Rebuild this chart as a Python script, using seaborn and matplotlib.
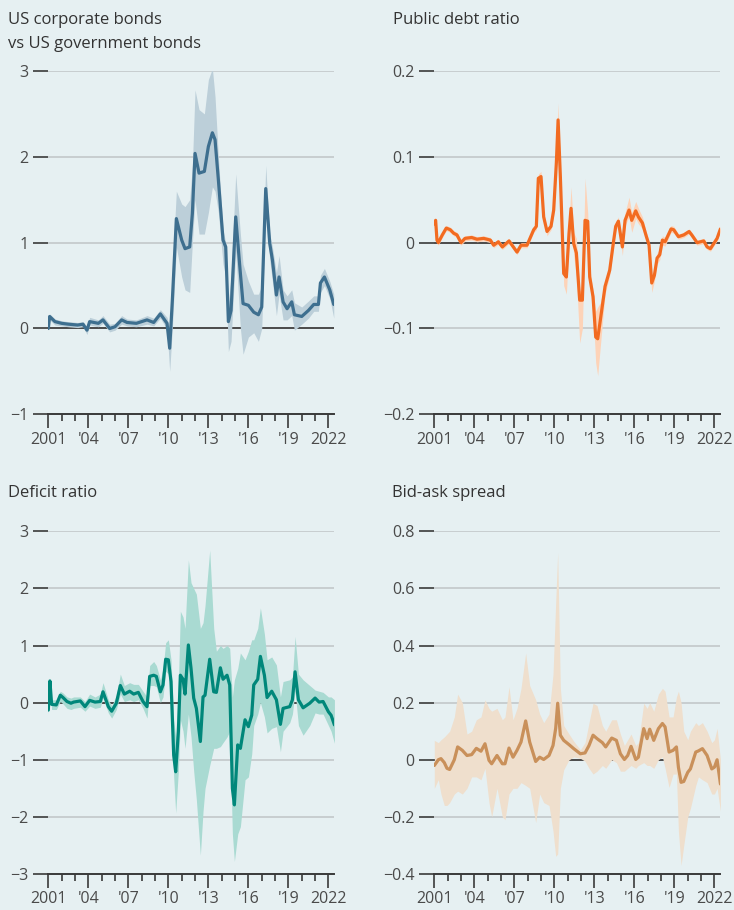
import matplotlib
matplotlib.use("Agg")
import matplotlib.pyplot as plt
import seaborn as sns
from matplotlib.ticker import FixedLocator, MultipleLocator

# ---- data (decimal years) ----
corp_years = [2001.0, 2001.1, 2001.5, 2002.0, 2002.5, 2003.2, 2003.6, 2003.9, 2004.1, 2004.75,
              2005.1, 2005.6, 2006.0, 2006.5, 2006.9, 2007.6, 2008.4, 2008.9, 2009.4, 2009.9,
              2010.1, 2010.3, 2010.6, 2011.0, 2011.25, 2011.6, 2011.8, 2012.0, 2012.3, 2012.7,
              2013.0, 2013.3, 2013.5, 2013.75, 2014.1, 2014.3, 2014.5, 2014.7, 2015.05, 2015.4,
              2015.6, 2016.0, 2016.4, 2016.75, 2017.0, 2017.3, 2017.6, 2017.8, 2018.1, 2018.3,
              2018.6, 2018.9, 2019.25, 2019.45, 2020.0, 2020.5, 2020.9, 2021.25, 2021.4, 2021.7,
              2022.1, 2022.4]
corp_mid = [0.0, 0.14, 0.08, 0.06, 0.05, 0.04, 0.05, -0.02, 0.08, 0.06,
            0.10, 0.0, 0.02, 0.10, 0.07, 0.06, 0.10, 0.07, 0.17, 0.06,
            -0.23, 0.33, 1.28, 1.03, 0.93, 0.95, 1.34, 2.04, 1.81, 1.83,
            2.12, 2.28, 2.20, 1.73, 1.03, 0.95, 0.08, 0.21, 1.30, 0.64,
            0.29, 0.27, 0.19, 0.16, 0.25, 1.63, 0.99, 0.80, 0.39, 0.60,
            0.31, 0.23, 0.31, 0.16, 0.14, 0.21, 0.28, 0.28, 0.53, 0.60,
            0.45, 0.28]
corp_lo = [-0.02, 0.10, 0.04, 0.03, 0.02, 0.01, 0.02, -0.07, 0.04, 0.02,
           0.06, -0.04, -0.02, 0.05, 0.03, 0.02, 0.05, 0.03, 0.12, -0.01,
           -0.50, 0.0, 0.95, 0.60, 0.45, 0.42, 1.00, 1.50, 1.10, 1.10,
           1.35, 1.65, 1.60, 1.35, 0.75, 0.60, -0.27, -0.15, 0.90, 0.0,
           -0.30, -0.10, -0.05, -0.15, 0.0, 1.40, 0.80, 0.55, 0.15, 0.40,
           0.10, 0.10, 0.15, -0.02, 0.05, 0.12, 0.20, 0.20, 0.42, 0.50,
           0.35, 0.12]
corp_hi = [0.02, 0.17, 0.11, 0.09, 0.08, 0.07, 0.08, 0.02, 0.13, 0.10,
           0.15, 0.05, 0.06, 0.15, 0.11, 0.10, 0.15, 0.12, 0.22, 0.13,
           0.0, 0.70, 1.60, 1.45, 1.42, 1.50, 1.90, 2.78, 2.55, 2.50,
           2.90, 3.03, 2.70, 2.00, 1.15, 1.00, 0.30, 0.60, 1.80, 1.10,
           0.75, 0.55, 0.40, 0.40, 0.50, 1.90, 1.10, 0.95, 0.65, 0.85,
           0.45, 0.38, 0.45, 0.30, 0.25, 0.32, 0.38, 0.38, 0.62, 0.70,
           0.55, 0.40]

debt_years = [2001.0, 2001.1, 2001.2, 2001.3, 2001.6, 2001.9, 2002.2, 2002.45, 2002.7, 2003.0,
              2003.3, 2003.8, 2004.2, 2004.7, 2005.2, 2005.45, 2005.8, 2006.1, 2006.6, 2007.2,
              2007.5, 2007.95, 2008.45, 2008.65, 2008.8, 2009.0, 2009.2, 2009.45, 2009.75, 2009.95,
              2010.15, 2010.28, 2010.45, 2010.7, 2010.9, 2011.1, 2011.25, 2011.45, 2011.65, 2011.9,
              2012.1, 2012.3, 2012.5, 2012.65, 2012.9, 2013.1, 2013.25, 2013.45, 2013.8, 2014.15,
              2014.45, 2014.6, 2014.8, 2015.1, 2015.3, 2015.6, 2015.8, 2016.1, 2016.3, 2016.6,
              2016.9, 2017.1, 2017.3, 2017.5, 2017.7, 2017.9, 2018.1, 2018.3, 2018.75, 2018.95,
              2019.3, 2019.7, 2020.1, 2020.3, 2020.7, 2021.2, 2021.45, 2021.7, 2021.95, 2022.2,
              2022.45]
debt_mid = [0.022, 0.026, 0.003, 0.0, 0.009, 0.017, 0.015, 0.011, 0.009, 0.0,
            0.005, 0.006, 0.004, 0.005, 0.003, -0.003, 0.001, -0.005, 0.002, -0.011,
            -0.003, -0.003, 0.015, 0.019, 0.075, 0.077, 0.030, 0.013, 0.019, 0.038,
            0.093, 0.143, 0.077, -0.036, -0.040, 0.011, 0.040, -0.001, -0.012, -0.067,
            -0.067, 0.026, 0.025, -0.040, -0.063, -0.110, -0.112, -0.090, -0.051, -0.032,
            0.003, 0.019, 0.025, -0.005, 0.026, 0.038, 0.026, 0.037, 0.030, 0.023,
            0.007, -0.003, -0.047, -0.038, -0.018, -0.014, 0.003, 0.001, 0.016, 0.015,
            0.007, 0.009, 0.013, 0.009, 0.0, 0.002, -0.005, -0.007, -0.001, 0.005,
            0.016]
debt_lo = [0.018, 0.022, 0.0, -0.003, 0.006, 0.014, 0.012, 0.008, 0.006, -0.003,
           0.002, 0.003, 0.001, 0.002, 0.0, -0.006, -0.002, -0.008, -0.001, -0.014,
           -0.006, -0.006, 0.012, 0.015, 0.068, 0.070, 0.025, 0.008, 0.015, 0.032,
           0.085, 0.130, 0.068, -0.050, -0.060, 0.0, 0.030, -0.015, -0.040, -0.117,
           -0.100, 0.015, 0.015, -0.050, -0.080, -0.140, -0.155, -0.120, -0.060, -0.038,
           -0.003, 0.014, 0.020, -0.015, 0.020, 0.030, 0.012, 0.028, 0.022, 0.016,
           0.002, -0.010, -0.058, -0.045, -0.025, -0.020, -0.003, -0.004, 0.012, 0.011,
           0.004, 0.006, 0.010, 0.006, -0.003, -0.001, -0.008, -0.010, -0.004, 0.002,
           0.013]
debt_hi = [0.026, 0.029, 0.006, 0.003, 0.012, 0.020, 0.018, 0.014, 0.012, 0.003,
           0.008, 0.009, 0.007, 0.008, 0.006, 0.0, 0.004, -0.002, 0.005, -0.008,
           0.0, 0.0, 0.018, 0.023, 0.080, 0.083, 0.035, 0.017, 0.023, 0.043,
           0.100, 0.163, 0.087, -0.025, -0.030, 0.025, 0.065, 0.012, 0.005, -0.055,
           -0.060, 0.075, 0.035, -0.030, -0.055, -0.080, -0.075, -0.070, -0.045, -0.027,
           0.008, 0.024, 0.030, 0.002, 0.035, 0.053, 0.035, 0.048, 0.040, 0.030,
           0.012, 0.002, -0.040, -0.032, -0.012, -0.008, 0.008, 0.006, 0.020, 0.019,
           0.010, 0.012, 0.016, 0.012, 0.003, 0.005, -0.002, -0.004, 0.002, 0.008,
           0.019]

def_years = [2001.0, 2001.12, 2001.25, 2001.6, 2001.9, 2002.1, 2002.4, 2002.7, 2002.9, 2003.4,
             2003.75, 2004.1, 2004.5, 2004.9, 2005.1, 2005.5, 2005.75, 2006.1, 2006.4, 2006.7,
             2007.1, 2007.4, 2007.75, 2008.1, 2008.4, 2008.6, 2008.9, 2009.1, 2009.4, 2009.6,
             2009.8, 2010.0, 2010.2, 2010.4, 2010.55, 2010.75, 2010.9, 2011.1, 2011.25, 2011.5,
             2011.7, 2011.9, 2012.1, 2012.4, 2012.6, 2012.75, 2013.1, 2013.4, 2013.6, 2013.9,
             2014.1, 2014.4, 2014.6, 2014.8, 2014.95, 2015.2, 2015.4, 2015.75, 2016.0, 2016.25,
             2016.4, 2016.7, 2016.9, 2017.2, 2017.4, 2017.75, 2018.1, 2018.4, 2018.6, 2019.1,
             2019.3, 2019.5, 2019.75, 2020.1, 2020.6, 2021.0, 2021.3, 2021.6, 2022.0, 2022.2,
             2022.45]
def_mid = [-0.13, 0.38, -0.03, -0.04, 0.13, 0.09, 0.02, -0.01, 0.01, 0.03,
           -0.07, 0.04, 0.01, 0.02, 0.19, -0.07, -0.15, -0.01, 0.30, 0.15,
           0.20, 0.15, 0.18, 0.02, -0.07, 0.46, 0.48, 0.46, 0.19, 0.31,
           0.76, 0.75, 0.37, -0.92, -1.21, -0.51, 0.48, 0.41, 0.15, 1.01,
           0.60, 0.08, -0.10, -0.68, 0.10, 0.13, 0.76, 0.19, 0.18, 0.61,
           0.41, 0.48, 0.31, -1.50, -1.79, -0.74, -0.80, -0.30, -0.42, -0.22,
           0.31, 0.41, 0.81, 0.48, 0.09, 0.20, 0.05, -0.38, -0.10, -0.07,
           0.05, 0.54, 0.05, -0.09, -0.01, 0.08, 0.01, 0.02, -0.16, -0.22,
           -0.39]
def_lo = [-0.20, 0.30, -0.12, -0.12, 0.02, -0.02, -0.10, -0.12, -0.10, -0.08,
          -0.15, -0.06, -0.10, -0.08, 0.08, -0.18, -0.27, -0.12, 0.15, 0.02,
          0.05, 0.02, 0.05, -0.10, -0.27, 0.30, 0.30, 0.28, 0.0, 0.10,
          0.55, 0.50, 0.0, -1.30, -1.93, -1.20, -0.30, -0.50, -0.80, -0.20,
          -0.60, -1.20, -1.70, -2.67, -1.90, -1.50, -1.10, -0.80, -0.80, -0.77,
          -0.70, -0.60, -0.50, -2.30, -2.78, -2.30, -2.17, -1.35, -1.30, -0.90,
          -0.40, -0.20, 0.0, -0.25, -0.53, -0.45, -0.42, -0.86, -0.50, -0.35,
          -0.20, 0.20, -0.40, -0.57, -0.40, -0.18, -0.20, -0.20, -0.40, -0.50,
          -0.71]
def_hi = [-0.05, 0.42, 0.05, 0.05, 0.20, 0.17, 0.10, 0.08, 0.10, 0.10,
          0.02, 0.15, 0.10, 0.15, 0.35, 0.05, -0.05, 0.12, 0.50, 0.30,
          0.35, 0.32, 0.32, 0.20, 0.10, 0.65, 0.72, 0.65, 0.40, 0.60,
          1.05, 1.10, 0.75, -0.30, -0.60, 0.30, 1.60, 1.50, 1.30, 2.50,
          2.10, 2.00, 1.90, 1.30, 1.40, 1.70, 2.67, 1.30, 0.90, 1.00,
          0.95, 1.00, 0.95, 0.10, 0.40, 0.60, 0.87, 0.75, 0.90, 1.10,
          1.10, 1.30, 1.66, 1.20, 0.75, 0.80, 0.66, 0.10, 0.37, 0.40,
          0.45, 1.16, 0.50, 0.40, 0.30, 0.22, 0.20, 0.18, 0.10, 0.10,
          0.05]

bid_years = [2001.0, 2001.3, 2001.5, 2001.75, 2001.95, 2002.15, 2002.5, 2002.75, 2003.1, 2003.45,
             2003.8, 2004.15, 2004.5, 2004.8, 2005.1, 2005.3, 2005.7, 2006.1, 2006.3, 2006.6,
             2006.9, 2007.2, 2007.5, 2007.85, 2008.15, 2008.6, 2008.9, 2009.2, 2009.6, 2009.9,
             2010.1, 2010.25, 2010.45, 2010.7, 2011.1, 2011.45, 2011.95, 2012.3, 2012.6, 2012.9,
             2013.2, 2013.6, 2013.85, 2014.3, 2014.65, 2014.95, 2015.25, 2015.5, 2015.75, 2016.1,
             2016.3, 2016.7, 2016.95, 2017.15, 2017.45, 2017.8, 2018.1, 2018.3, 2018.6, 2018.9,
             2019.15, 2019.3, 2019.5, 2019.7, 2020.0, 2020.2, 2020.6, 2020.8, 2021.1, 2021.45,
             2021.8, 2022.0, 2022.2, 2022.45]
bid_mid = [-0.020, 0.0, 0.004, -0.010, -0.030, -0.034, 0.0, 0.045, 0.033, 0.015,
           0.018, 0.040, 0.030, 0.056, -0.002, -0.014, 0.015, -0.014, -0.014, 0.041,
           0.009, 0.033, 0.062, 0.136, 0.062, -0.006, 0.009, 0.001, 0.015, 0.050,
           0.110, 0.198, 0.086, 0.068, 0.053, 0.039, 0.021, 0.024, 0.050, 0.086,
           0.074, 0.060, 0.045, 0.076, 0.068, 0.021, 0.001, 0.015, 0.047, 0.001,
           0.009, 0.109, 0.074, 0.107, 0.068, 0.109, 0.127, 0.115, 0.027, 0.033,
           0.045, -0.026, -0.079, -0.076, -0.044, -0.032, 0.027, 0.031, 0.039, 0.015,
           -0.032, -0.026, 0.0, -0.085]
bid_lo = [-0.10, -0.07, -0.12, -0.16, -0.16, -0.15, -0.12, -0.11, -0.12, -0.10,
          -0.06, -0.06, -0.07, -0.03, -0.15, -0.20, -0.10, -0.20, -0.21, -0.12,
          -0.10, -0.10, -0.08, -0.09, -0.10, -0.22, -0.12, -0.15, -0.16, -0.25,
          -0.338, -0.33, -0.10, -0.035, 0.0, 0.01, 0.005, -0.005, -0.03, -0.05,
          -0.04, -0.02, -0.03, 0.0, -0.01, -0.04, -0.04, -0.03, -0.02, -0.03,
          -0.02, -0.01, -0.02, -0.02, -0.03, 0.0, 0.01, -0.03, -0.097, -0.05,
          -0.05, -0.25, -0.37, -0.30, -0.20, -0.17, -0.09, -0.06, -0.07, -0.08,
          -0.12, -0.12, -0.10, -0.18]
bid_hi = [0.068, 0.06, 0.07, 0.08, 0.09, 0.10, 0.15, 0.23, 0.20, 0.09,
          0.10, 0.14, 0.15, 0.21, 0.18, 0.17, 0.18, 0.14, 0.15, 0.256,
          0.14, 0.18, 0.25, 0.374, 0.26, 0.21, 0.16, 0.13, 0.16, 0.30,
          0.55, 0.727, 0.25, 0.12, 0.09, 0.065, 0.035, 0.06, 0.13, 0.198,
          0.19, 0.12, 0.10, 0.14, 0.14, 0.09, 0.05, 0.07, 0.09, 0.05,
          0.06, 0.198, 0.18, 0.20, 0.17, 0.23, 0.25, 0.24, 0.15, 0.15,
          0.22, 0.24, 0.20, 0.10, 0.07, 0.10, 0.13, 0.12, 0.13, 0.10,
          0.06, 0.07, 0.11, 0.0]

major_years = [2001, 2004, 2007, 2010, 2013, 2016, 2019, 2022]
major_labels = ["2001", "'04", "'07", "'10", "'13", "'16", "'19", "2022"]

BG = "#e6f0f2"
sns.set_theme(style="white")
plt.rcParams["font.family"] = ["Open Sans", "DejaVu Sans"]

fig = plt.figure(figsize=(7.34, 9.10), dpi=100, facecolor=BG)

W, H = 734, 910


def make_ax(left_px, top_px, bottom_px):
    width_px = 286
    return fig.add_axes([left_px / W, 1 - bottom_px / H, width_px / W, (bottom_px - top_px) / H])


def style_panel(ax, years, mid, lo, hi, line_col, band_col, ylim, yticks, ylabels):
    ax.set_facecolor(BG)
    for t in yticks:
        if t != 0:
            ax.axhline(t, color="#c3c8ca", lw=1.2, zorder=1)
    ax.axhline(0, color="#4a4a4a", lw=1.4, zorder=1.5)
    ax.fill_between(years, lo, hi, color=band_col, lw=0, zorder=2)
    sns.lineplot(x=years, y=mid, ax=ax, color=line_col, lw=2.3, legend=False, zorder=3,
                 sort=False, solid_joinstyle="round", solid_capstyle="round")
    ax.set_xlim(2001, 2022.44)
    ax.set_ylim(*ylim)
    ax.set_xlabel("")
    ax.set_ylabel("")
    for s in ["top", "right", "left"]:
        ax.spines[s].set_visible(False)
    ax.spines["bottom"].set_color("#3a3a3a")
    ax.spines["bottom"].set_linewidth(1.4)
    ax.set_yticks(yticks)
    ax.set_yticklabels(ylabels)
    ax.xaxis.set_major_locator(FixedLocator(major_years))
    ax.set_xticklabels(major_labels)
    ax.xaxis.set_minor_locator(MultipleLocator(1))
    ax.tick_params(axis="y", which="major", direction="out", length=10.5, width=1.2,
                   color="#3a3a3a", pad=3.5, labelsize=11.5, labelcolor="#4a4a4a", left=True)
    ax.tick_params(axis="x", which="major", direction="out", length=10, width=1.2,
                   color="#3a3a3a", pad=2.5, labelsize=11.5, labelcolor="#4a4a4a", bottom=True)
    ax.tick_params(axis="x", which="minor", direction="out", length=5, width=1.2,
                   color="#3a3a3a", bottom=True)
    ax.grid(False)


ax1 = make_ax(48.3, 71, 414.3)
style_panel(ax1, corp_years, corp_mid, corp_lo, corp_hi, "#3e6f8f", "#bccfd9",
            (-1, 3), [-1, 0, 1, 2, 3], ["\u22121", "0", "1", "2", "3"])

ax2 = make_ax(434.3, 71, 414.3)
style_panel(ax2, debt_years, debt_mid, debt_lo, debt_hi, "#f26b21", "#fdd3b8",
            (-0.2, 0.2), [-0.2, -0.1, 0, 0.1, 0.2], ["\u22120.2", "\u22120.1", "0", "0.1", "0.2"])

ax3 = make_ax(48.3, 531.3, 874)
style_panel(ax3, def_years, def_mid, def_lo, def_hi, "#00877a", "#a9dad2",
            (-3, 3), [-3, -2, -1, 0, 1, 2, 3], ["\u22123", "\u22122", "\u22121", "0", "1", "2", "3"])

ax4 = make_ax(434.3, 531.3, 874)
style_panel(ax4, bid_years, bid_mid, bid_lo, bid_hi, "#c9905a", "#efdfcd",
            (-0.4, 0.8), [-0.4, -0.2, 0, 0.2, 0.4, 0.6, 0.8],
            ["\u22120.4", "\u22120.2", "0", "0.2", "0.4", "0.6", "0.8"])

title_kw = dict(fontsize=12, color="#333333", va="baseline", ha="left")
fig.text(8 / W, 1 - 24 / H, "US corporate bonds", **title_kw)
fig.text(8 / W, 1 - 48 / H, "vs US government bonds", **title_kw)
fig.text(393 / W, 1 - 24 / H, "Public debt ratio", **title_kw)
fig.text(8 / W, 1 - 497.5 / H, "Deficit ratio", **title_kw)
fig.text(392 / W, 1 - 497.5 / H, "Bid-ask spread", **title_kw)

fig.savefig("out.png", dpi=100, facecolor=BG)
